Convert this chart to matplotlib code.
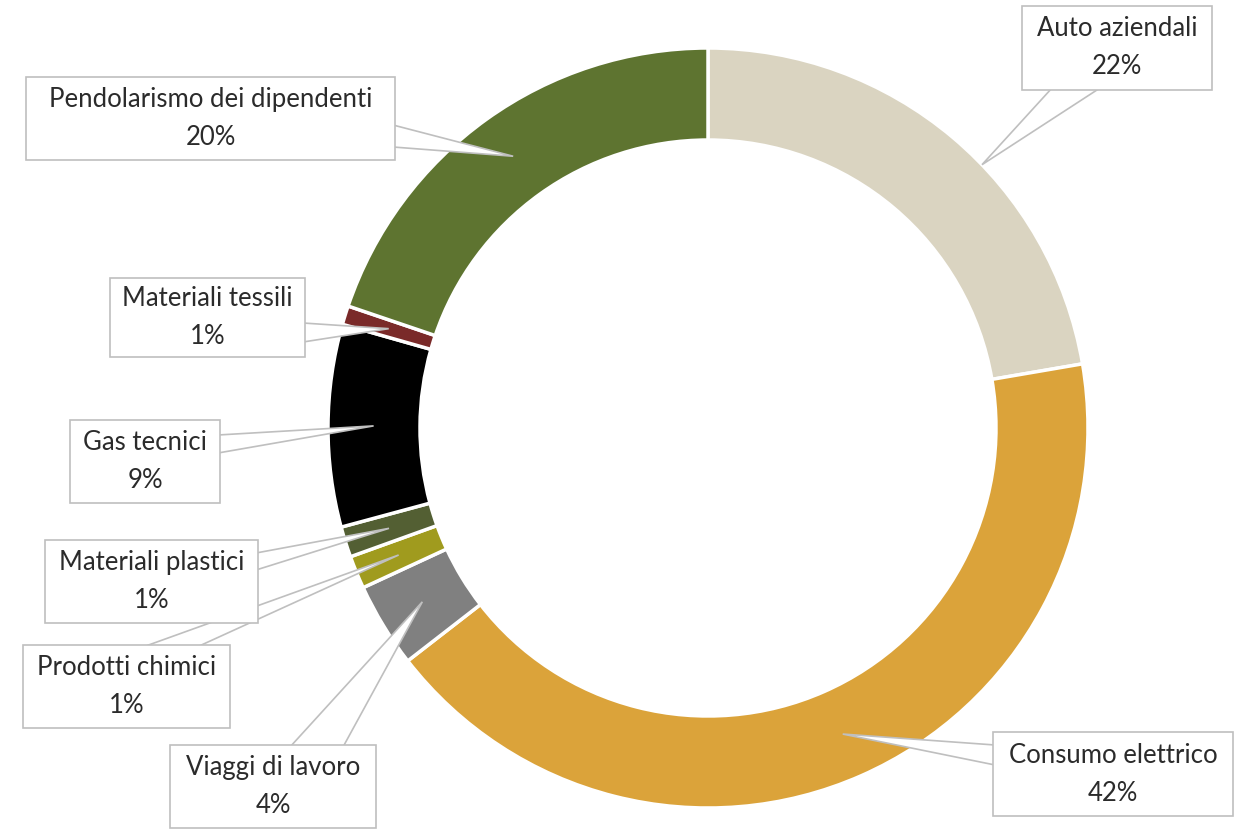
import matplotlib.pyplot as plt
from matplotlib.patches import Rectangle, Polygon
import numpy as np

#---Data (clockwise from the top)
categories = ['Auto aziendali', 'Consumo elettrico', 'Viaggi di lavoro', 'Prodotti chimici',
              'Materiali plastici', 'Gas tecnici', 'Materiali tessili', 'Pendolarismo dei dipendenti']
values = [22.3, 42.2, 3.6, 1.4, 1.3, 8.6, 0.8, 19.8]
colors = ['#DAD4C1', '#DBA33A', '#808080', '#A09B1E', '#535F33', '#000000', '#7A2A29', '#5E7430']

#---Layout in pixels (image coords, y down): box x0, y0, x1, y1 and callout base points
W, H = 1246, 830
boxes = [(1022, 6, 1212, 90), (993, 732, 1233, 816), (170, 745, 376, 828), (23, 645, 230, 728),
         (45, 540, 258, 623), (70, 420, 220, 503), (110, 278, 305, 357), (26, 77, 395, 160)]
bases = [((1052, 88), (1100, 88)), ((995, 745), (995, 765)), ((290, 747), (343, 747)),
         ((143, 647), (197, 647)), ((256, 553), (256, 570)), ((218, 435), (218, 453)),
         ((303, 323), (303, 342)), ((393, 125), (393, 147))]
apex_r = [1.0, 0.88, 0.88, 0.88, 0.88, 0.88, 0.88, 0.88]

cx, cy, R = 708, H - 428, 380

fig = plt.figure(figsize=(W / 100, H / 100), dpi=100)
ax = fig.add_axes([0, 0, 1, 1])
wedges, _ = ax.pie(values, colors=colors, startangle=90, counterclock=False,
                   radius=R, center=(cx, cy),
                   wedgeprops=dict(width=92, edgecolor='white', linewidth=2.5))
ax.set_xlim(0, W)
ax.set_ylim(0, H)
ax.set_aspect('equal')
ax.axis('off')

for i, w in enumerate(wedges):
    mid = np.deg2rad((w.theta1 + w.theta2) / 2)
    if i == 0:
        mid -= np.deg2rad(6)
    r = R * apex_r[i]
    apex = (cx + r * np.cos(mid), cy + r * np.sin(mid))
    (bx1, by1), (bx2, by2) = bases[i]
    tri = Polygon([(bx1, H - by1), apex, (bx2, H - by2)], closed=True,
                  facecolor='white', edgecolor='#BFBFBF', linewidth=1.2, zorder=3)
    ax.add_patch(tri)
    x0, y0, x1, y1 = boxes[i]
    ax.add_patch(Rectangle((x0, H - y1), x1 - x0, y1 - y0, facecolor='white',
                           edgecolor='#BFBFBF', linewidth=1.2, zorder=4))
    ax.text((x0 + x1) / 2, H - (y0 + y1) / 2, '%s\n%d%%' % (categories[i], round(values[i])),
            ha='center', va='center', multialignment='center', linespacing=1.65,
            fontsize=18.5, family='Lato', color='#2B2B2B', zorder=5)

plt.savefig('out.png', dpi=100)
